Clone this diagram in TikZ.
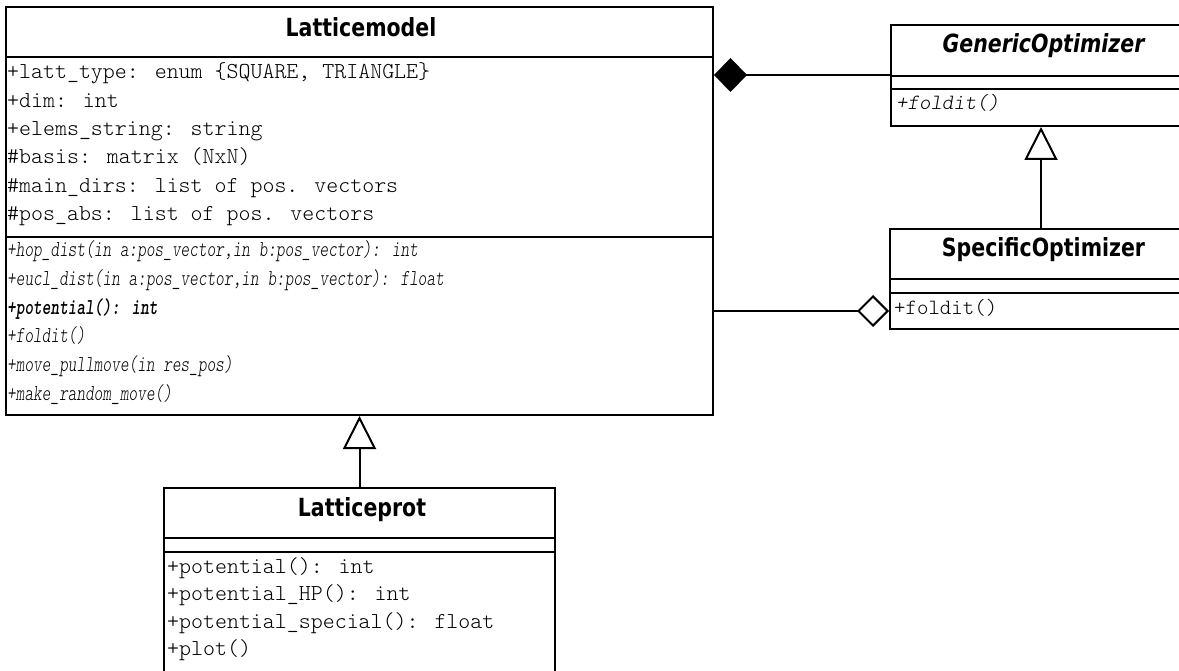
\documentclass[tikz,border=0pt]{standalone}
\usepackage{fontspec}
\newfontfamily\titlefont[FakeStretch=0.82]{DejaVu Sans}
\newfontfamily\umono[Extension=.otf, ItalicFont=lmmonolt10-oblique, BoldFont=lmmonolt10-bold, BoldItalicFont=lmmonolt10-boldoblique]{lmmonolt10-regular}
\newfontfamily\condmono[Extension=.otf, FakeStretch=0.725, ItalicFont=lmmonolt10-oblique, BoldFont=lmmonolt10-bold, BoldItalicFont=lmmonolt10-boldoblique]{lmmonolt10-regular}
\usetikzlibrary{arrows.meta}
\begin{document}
\begin{tikzpicture}[x=1pt,y=-1pt,
  box/.style={draw, line width=2pt, rectangle, inner sep=0pt, fill=white},
  sepline/.style={line width=2pt},
  conn/.style={line width=2pt},
  title/.style={font=\titlefont\bfseries\fontsize{25}{30}\selectfont, anchor=base, inner sep=0pt},
  ititle/.style={font=\titlefont\bfseries\itshape\fontsize{25}{30}\selectfont, anchor=base, inner sep=0pt},
  attr/.style={font=\umono\fontsize{22.8}{26}\selectfont, anchor=base west, inner sep=0pt},
  smallattr/.style={font=\umono\fontsize{21.8}{25}\selectfont, anchor=base west, inner sep=0pt},
  smallop/.style={font=\umono\itshape\fontsize{21.8}{25}\selectfont, anchor=base west, inner sep=0pt},
  op/.style={font=\condmono\itshape\fontsize{22.8}{26}\selectfont, anchor=base west, inner sep=0pt},
  boldop/.style={font=\condmono\bfseries\itshape\fontsize{22.8}{26}\selectfont, anchor=base west, inner sep=0pt},
  compo/.style={conn, -{Diamond[length=33pt,width=34pt,fill=black]}},
  aggr/.style={conn, -{Diamond[open,length=32pt,width=32pt]}},
  inherit/.style={conn, -{Triangle[open,length=33pt,width=33pt]}}
]
\useasboundingbox (0,0) rectangle (1179,671);
\fill[white] (0,0) rectangle (1179,671);
\clip (0,0) rectangle (1179,671);

% ---------- Latticemodel ----------
\node[box, minimum width=707pt, minimum height=408pt] (lm) at (359.5,211) {};
\draw[sepline] (lm.west |- 0,57) -- (lm.east |- 0,57);
\draw[sepline] (lm.west |- 0,237) -- (lm.east |- 0,237);
\node[title] (lmt) at (361,37) {Latticemodel};
\node[attr] (lma1) at (7,79) {+latt\_type: enum \{SQUARE, TRIANGLE\}};
\node[attr] (lma2) at (7,107.3) {+dim: int};
\node[attr] (lma3) at (7,135.6) {+elems\_string: string};
\node[attr] (lma4) at (7,164) {\#basis: matrix (NxN)};
\node[attr] (lma5) at (7,192.2) {\#main\_dirs: list of pos. vectors};
\node[attr] (lma6) at (7,220.5) {\#pos\_abs: list of pos. vectors};
\node[op] (lmo1) at (7,257) {+hop\_dist(in a:pos\_vector,in b:pos\_vector): int};
\node[op] (lmo2) at (7,285.6) {+eucl\_dist(in a:pos\_vector,in b:pos\_vector): float};
\node[boldop] (lmo3) at (7,314.2) {+potential(): int};
\node[op] (lmo4) at (7,342.8) {+foldit()};
\node[op] (lmo5) at (7,371.4) {+move\_pullmove(in res\_pos)};
\node[op] (lmo6) at (7,400) {+make\_random\_move()};

% ---------- GenericOptimizer ----------
\node[box, minimum width=300pt, minimum height=101pt] (gen) at (1041,75.5) {};
\draw[sepline] (gen.west |- 0,76) -- (gen.east |- 0,76);
\draw[sepline] (gen.west |- 0,89) -- (gen.east |- 0,89);
\node[ititle] (gent) at (1043.5,53) {GenericOptimizer};
\node[smallop] (geno1) at (896,110) {+foldit()};

% ---------- SpecificOptimizer ----------
\node[box, minimum width=302pt, minimum height=100pt] (spec) at (1041,279) {};
\draw[sepline] (spec.west |- 0,279) -- (spec.east |- 0,279);
\draw[sepline] (spec.west |- 0,293) -- (spec.east |- 0,293);
\node[title] (spect) at (1043.5,257) {SpecificOptimizer};
\node[smallattr] (speco1) at (894,315) {+foldit()};

% ---------- Latticeprot ----------
\node[box, minimum width=391pt, minimum height=222pt] (lp) at (359.5,599) {};
\draw[sepline] (lp.west |- 0,538) -- (lp.east |- 0,538);
\draw[sepline] (lp.west |- 0,552) -- (lp.east |- 0,552);
\node[title] (lpt) at (362,516) {Latticeprot};
\node[attr] (lpo1) at (167,573) {+potential(): int};
\node[attr] (lpo2) at (167,600.5) {+potential\_HP(): int};
\node[attr] (lpo3) at (167,628) {+potential\_special(): float};
\node[attr] (lpo4) at (167,655) {+plot()};

% ---------- connectors ----------
\draw[compo] (gen.west |- 0,75) -- (lm.east |- 0,75);
\draw[aggr] (lm.east |- 0,311) -- (spec.west |- 0,311);
\draw[inherit] (spec.north) -- (gen.south);
\draw[inherit] (lp.north) -- (lm.south);
\end{tikzpicture}
\end{document}
